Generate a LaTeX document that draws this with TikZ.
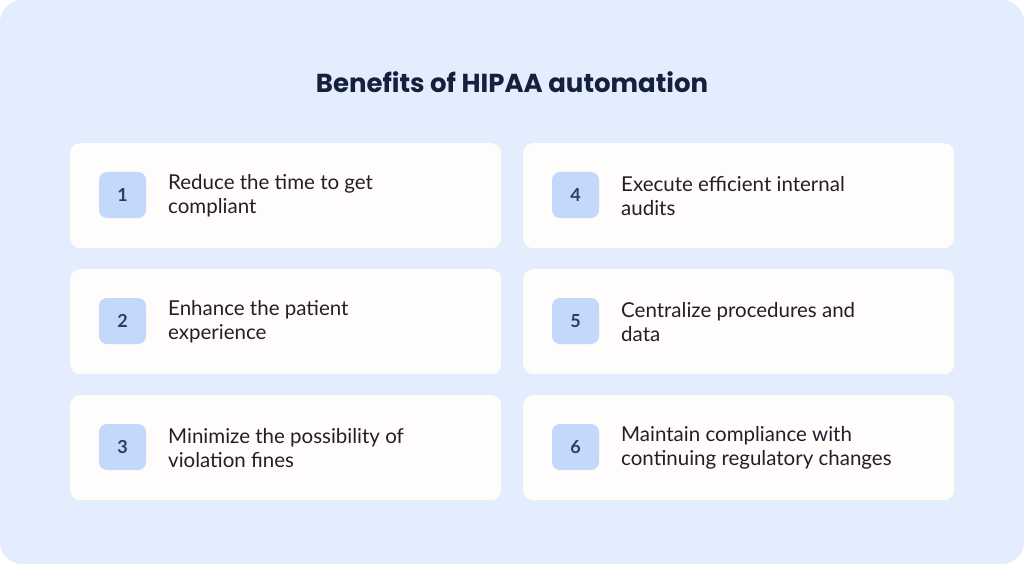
\documentclass[tikz,border=0pt]{standalone}
\usepackage{fontspec}
\setmainfont{Lato}
\newfontfamily\titlefont{Poppins}
\newfontfamily\medfont{Lato Medium}
\definecolor{bg}{HTML}{E3EDFD}
\definecolor{card}{HTML}{FFFCFC}
\definecolor{numbg}{HTML}{C3D8FA}
\definecolor{numfg}{HTML}{2D3E5E}
\definecolor{txt}{HTML}{2A1A2A}
\definecolor{ttl}{HTML}{14213D}
\tikzset{
  cardbox/.style={fill=card, rounded corners=10pt, minimum width=431pt, minimum height=105pt, inner sep=0pt, anchor=north west},
  numbox/.style={fill=numbg, rounded corners=8pt, minimum width=47pt, minimum height=46pt, inner sep=0pt, text=numfg, font=\fontsize{18}{18}\selectfont\bfseries},
  label/.style={anchor=west, align=left, text=txt, font=\fontsize{20.5}{24}\selectfont, inner sep=0pt}
}
\begin{document}
\begin{tikzpicture}[x=1pt,y=-1pt]
\useasboundingbox (0,0) rectangle (1024,564);
\fill[white] (0,0) rectangle (1024,564);
\fill[bg, rounded corners=22pt] (0,0) rectangle (1024,564);
\node[text=ttl, font=\titlefont\fontsize{26}{30}\selectfont\bfseries] (title) at (512,82) {Benefits of HIPAA automation};
\foreach \n/\x/\y/\t in {
 1/70/143/{Reduce the time to get\\compliant},
 2/70/269/{Enhance the patient\\experience},
 3/70/395/{Minimize the possibility of\\violation fines},
 4/523/143/{Execute efficient internal\\audits},
 5/523/269/{Centralize procedures and\\data},
 6/523/395/{Maintain compliance with\\continuing regulatory changes}}{
  \node[cardbox] (c\n) at (\x,\y) {};
  \node[numbox] (n\n) at (\x+52.5,\y+52) {\n};
  \node[label] (t\n) at (\x+98,\y+53) {\t};
}
\end{tikzpicture}
\end{document}
